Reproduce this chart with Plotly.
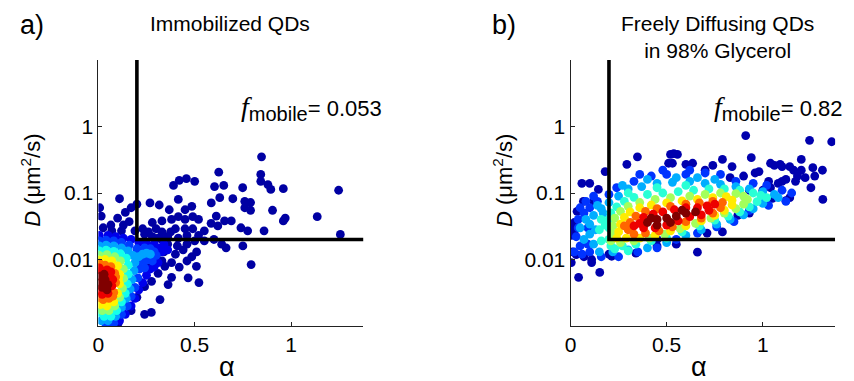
import plotly.graph_objects as go

W, H = 854, 381

# ---------------- data: panel a (Immobilized QDs) ----------------
# points grouped by local density level (0 = sparse, 1 = densest); (alpha, D in um^2/s)
A_D100 = [(0.01, 0.0045), (0.035, 0.005), (0.02, 0.0038), (0.05, 0.0042), (0.008, 0.0056), (0.03, 0.006),
          (0.045, 0.0035)]
A_D088 = [(0.005, 0.0034), (0.015, 0.0068), (0.06, 0.0057), (0.07, 0.004), (0.05, 0.0031), (0.02, 0.003),
          (0.075, 0.005), (0.045, 0.007), (0.005, 0.0075), (0.065, 0.0065)]
A_D075 = [(0.005, 0.0027), (0.025, 0.0025), (0.055, 0.0026), (0.08, 0.0032), (0.09, 0.0045), (0.085, 0.0062),
          (0.065, 0.0078), (0.035, 0.0082), (0.005, 0.0088), (0.09, 0.0055), (0.075, 0.0028)]
A_D062 = [(0.005, 0.0098), (0.035, 0.01), (0.07, 0.0095), (0.1, 0.008), (0.11, 0.006), (0.11, 0.0043),
          (0.1, 0.0031), (0.08, 0.0023), (0.045, 0.002), (0.01, 0.0021), (0.105, 0.0052)]
A_D050 = [(0.005, 0.0115), (0.045, 0.0118), (0.085, 0.011), (0.115, 0.0095), (0.13, 0.0072), (0.13, 0.0052),
          (0.125, 0.0037), (0.11, 0.0027), (0.085, 0.002), (0.055, 0.0017), (0.02, 0.0017)]
A_D038 = [(0.005, 0.0135), (0.04, 0.0138), (0.08, 0.0132), (0.115, 0.0122), (0.145, 0.0105), (0.155, 0.0082),
          (0.155, 0.006), (0.15, 0.0043), (0.14, 0.0031), (0.12, 0.0023), (0.095, 0.0017), (0.065, 0.0014),
          (0.03, 0.0014), (0.005, 0.0016)]
A_D027 = [(0.005, 0.016), (0.04, 0.0165), (0.08, 0.016), (0.12, 0.015), (0.155, 0.0135), (0.18, 0.0115),
          (0.19, 0.009), (0.185, 0.0068), (0.175, 0.005), (0.165, 0.0036), (0.145, 0.0026), (0.12, 0.0019),
          (0.09, 0.0014), (0.05, 0.0012), (0.015, 0.0012), (0.21, 0.011), (0.23, 0.012), (0.25, 0.0125),
          (0.27, 0.012)]
A_D017 = [(0.005, 0.019), (0.04, 0.0195), (0.08, 0.019), (0.12, 0.018), (0.16, 0.0165), (0.2, 0.0145),
          (0.22, 0.0095), (0.215, 0.0072), (0.205, 0.0053), (0.19, 0.0038), (0.17, 0.0028), (0.15, 0.002),
          (0.12, 0.0015), (0.08, 0.0011), (0.04, 0.001), (0.24, 0.015), (0.27, 0.0145), (0.29, 0.013),
          (0.3, 0.0115), (0.25, 0.0098), (0.28, 0.0095), (0.24, 0.0075)]
A_D009 = [(0.005, 0.023), (0.05, 0.023), (0.09, 0.022), (0.13, 0.021), (0.17, 0.02), (0.21, 0.018),
          (0.25, 0.018), (0.29, 0.017), (0.32, 0.015), (0.33, 0.013), (0.31, 0.009), (0.27, 0.0072),
          (0.25, 0.0058), (0.23, 0.0045), (0.21, 0.0035), (0.19, 0.0026), (0.17, 0.002), (0.14, 0.0015),
          (0.11, 0.0012), (0.34, 0.017), (0.36, 0.014), (0.29, 0.0078)]
A_D002 = [(0.847, 0.35), (0.625, 0.206), (1.247, 0.11), (0.96, 0.116), (1.136, 0.044), (1.256, 0.0238),
          (0.843, 0.19), (0.843, 0.15), (0.895, 0.113), (0.88, 0.134), (0.749, 0.12), (0.651, 0.13),
          (0.603, 0.125), (0.698, 0.082), (0.63, 0.085), (0.586, 0.071), (0.457, 0.164), (0.5, 0.15),
          (0.42, 0.155), (0.39, 0.13), (0.415, 0.08), (0.268, 0.071), (0.316, 0.066), (0.368, 0.056),
          (0.45, 0.056), (0.485, 0.063), (0.76, 0.075), (0.76, 0.06), (0.79, 0.055), (0.79, 0.072),
          (0.904, 0.055), (0.96, 0.038), (0.97, 0.042), (0.86, 0.027), (0.793, 0.0084), (0.75, 0.016),
          (0.74, 0.03), (0.775, 0.027), (0.663, 0.015), (0.64, 0.017), (0.6, 0.02), (0.55, 0.027),
          (0.585, 0.035), (0.62, 0.032), (0.655, 0.038), (0.69, 0.038), (0.612, 0.045), (0.509, 0.0079),
          (0.466, 0.0053), (0.522, 0.0045), (0.362, 0.0042), (0.32, 0.0025), (0.275, 0.0016), (0.24, 0.0015),
          (0.17, 0.0017), (0.103, 0.0011), (0.068, 0.0011), (0.38, 0.0054), (0.42, 0.0077), (0.46, 0.0095),
          (0.485, 0.011), (0.51, 0.013), (0.38, 0.009), (0.345, 0.0079), (0.31, 0.0062), (0.276, 0.0047),
          (0.24, 0.0039), (0.2, 0.0027), (0.3, 0.011), (0.26, 0.0085), (0.33, 0.0095),
          (0.007, 0.06), (0.11, 0.082), (0.015, 0.045), (0.14, 0.051), (0.17, 0.06),
          (0.2, 0.068), (0.025, 0.03), (0.065, 0.033), (0.1, 0.042), (0.13, 0.033), (0.16, 0.037),
          (0.07, 0.027), (0.12, 0.027), (0.19, 0.027), (0.23, 0.029), (0.28, 0.036), (0.33, 0.038),
          (0.38, 0.04), (0.415, 0.044), (0.45, 0.04), (0.49, 0.044), (0.52, 0.04), (0.4, 0.029),
          (0.45, 0.029), (0.49, 0.029), (0.46, 0.023), (0.415, 0.021), (0.375, 0.026), (0.33, 0.026),
          (0.3, 0.029), (0.26, 0.026), (0.31, 0.021), (0.36, 0.017), (0.41, 0.016), (0.46, 0.017),
          (0.5, 0.019), (0.55, 0.019), (0.52, 0.023), (0.34, 0.013), (0.4, 0.012), (0.44, 0.014),
          (0.33, 0.02), (0.28, 0.022), (0.36, 0.022), (0.24, 0.024)]
A_LEVELS = [(0.02, A_D002), (0.09, A_D009), (0.17, A_D017), (0.27, A_D027), (0.38, A_D038),
            (0.50, A_D050), (0.62, A_D062), (0.75, A_D075), (0.88, A_D088), (1.00, A_D100)]

# ---------------- data: panel b (Freely diffusing QDs) ----------------
B_D100 = [(0.4, 0.036), (0.45, 0.04), (0.5, 0.042), (0.55, 0.045), (0.6, 0.05), (0.45, 0.033), (0.52, 0.036),
          (0.58, 0.055), (0.65, 0.052), (0.42, 0.042)]
B_D088 = [(0.36, 0.035), (0.38, 0.043), (0.43, 0.048), (0.48, 0.052), (0.54, 0.056), (0.6, 0.06), (0.66, 0.06),
          (0.71, 0.064), (0.72, 0.055), (0.68, 0.047), (0.62, 0.044), (0.56, 0.038), (0.5, 0.033), (0.44, 0.03),
          (0.38, 0.03), (0.75, 0.068), (0.33, 0.032)]
B_D076 = [(0.3, 0.028), (0.31, 0.036), (0.34, 0.045), (0.39, 0.053), (0.45, 0.058), (0.52, 0.063), (0.6, 0.068),
          (0.67, 0.071), (0.74, 0.075), (0.79, 0.072), (0.78, 0.06), (0.74, 0.05), (0.68, 0.042), (0.6, 0.037),
          (0.53, 0.031), (0.46, 0.027), (0.39, 0.025), (0.33, 0.024), (0.28, 0.032)]
B_D063 = [(0.25, 0.026), (0.26, 0.034), (0.28, 0.043), (0.31, 0.052), (0.36, 0.06), (0.42, 0.066), (0.5, 0.071),
          (0.58, 0.076), (0.66, 0.08), (0.74, 0.085), (0.81, 0.088), (0.84, 0.078), (0.84, 0.066), (0.8, 0.055),
          (0.75, 0.046), (0.68, 0.038), (0.6, 0.032), (0.52, 0.027), (0.44, 0.023), (0.36, 0.021), (0.29, 0.021),
          (0.24, 0.021)]
B_D052 = [(0.22, 0.024), (0.22, 0.032), (0.23, 0.042), (0.26, 0.053), (0.3, 0.063), (0.36, 0.072), (0.44, 0.08),
          (0.52, 0.085), (0.62, 0.09), (0.7, 0.095), (0.78, 0.1), (0.86, 0.098), (0.9, 0.09), (0.92, 0.08),
          (0.9, 0.068), (0.86, 0.058), (0.8, 0.05), (0.73, 0.042), (0.65, 0.035), (0.57, 0.029), (0.49, 0.024),
          (0.41, 0.021), (0.33, 0.019), (0.26, 0.018), (0.21, 0.019)]
B_D040 = [(0.2, 0.02), (0.2, 0.03), (0.2, 0.04), (0.21, 0.05), (0.24, 0.062), (0.28, 0.075), (0.33, 0.086),
          (0.4, 0.095), (0.48, 0.1), (0.56, 0.105), (0.64, 0.11), (0.72, 0.115), (0.8, 0.115), (0.88, 0.11),
          (0.95, 0.1), (0.99, 0.092), (1.02, 0.085), (0.97, 0.074), (0.93, 0.062), (0.88, 0.052), (0.82, 0.045),
          (0.75, 0.039), (0.67, 0.032), (0.58, 0.026), (0.5, 0.021), (0.42, 0.019), (0.34, 0.017), (0.27, 0.016),
          (0.21, 0.016), (0.16, 0.019), (0.15, 0.028), (0.16, 0.04), (0.3, 0.1), (0.45, 0.12), (0.6, 0.13),
          (0.23, 0.0145), (0.3, 0.0135), (0.18, 0.033)]
B_D028 = [(0.12, 0.017), (0.1, 0.024), (0.1, 0.034), (0.12, 0.046), (0.16, 0.058), (0.2, 0.072), (0.25, 0.09),
          (0.3, 0.115), (0.37, 0.125), (0.45, 0.14), (0.53, 0.145), (0.62, 0.15), (0.7, 0.14), (0.78, 0.135),
          (0.86, 0.125), (0.93, 0.115), (1.0, 0.105), (1.06, 0.095), (1.08, 0.085), (1.0, 0.07), (0.95, 0.058),
          (0.9, 0.047), (0.83, 0.04), (0.76, 0.034), (0.68, 0.028), (0.6, 0.023), (0.5, 0.018), (0.4, 0.015),
          (0.3, 0.014), (0.22, 0.013), (0.15, 0.013), (0.07, 0.02), (0.05, 0.03), (0.27, 0.13), (0.4, 0.16),
          (0.55, 0.17), (0.66, 0.17), (0.75, 0.16), (0.13, 0.028), (0.17, 0.05), (0.08, 0.04), (0.14, 0.065)]
B_D016 = [(0.05, 0.016), (0.03, 0.022), (0.04, 0.04), (0.07, 0.05), (0.1, 0.06), (0.14, 0.075), (0.2, 0.095),
          (0.24, 0.12), (0.33, 0.15), (0.42, 0.18), (0.5, 0.19), (0.6, 0.19), (0.7, 0.2), (0.78, 0.19),
          (0.86, 0.15), (0.95, 0.14), (1.02, 0.13), (1.1, 0.11), (1.15, 0.1), (1.12, 0.075), (1.03, 0.065),
          (0.93, 0.055), (0.85, 0.037), (0.76, 0.031), (0.66, 0.025), (0.55, 0.02), (0.45, 0.015),
          (0.35, 0.013), (0.25, 0.011), (0.16, 0.011), (0.1, 0.013), (0.02, 0.013), (0.48, 0.22), (0.62, 0.22),
          (0.36, 0.19), (0.12, 0.09), (0.08, 0.075), (0.06, 0.012), (0.09, 0.017), (0.05, 0.06),
          (0.09, 0.03), (0.04, 0.03)]
B_D003 = [(0.911, 0.73), (1.243, 0.62), (1.358, 0.59), (0.348, 0.35), (0.537, 0.39), (0.556, 0.38),
          (0.293, 0.27), (0.51, 0.28), (0.635, 0.28), (0.74, 0.26), (0.79, 0.32), (0.84, 0.25), (0.94, 0.34),
          (1.2, 0.32), (1.06, 0.26), (1.1, 0.25), (1.14, 0.25), (1.26, 0.24), (1.31, 0.22), (1.27, 0.18),
          (1.2, 0.22), (1.18, 0.18), (1.22, 0.17), (0.96, 0.2), (0.98, 0.21), (0.9, 0.18), (0.83, 0.17),
          (1.12, 0.16), (1.08, 0.14), (1.25, 0.12), (1.312, 0.08), (1.12, 0.077), (1.14, 0.085),
          (1.05, 0.083), (0.93, 0.05), (0.87, 0.046), (0.79, 0.026), (0.71, 0.025), (0.66, 0.0129),
          (0.45, 0.02), (0.34, 0.0125), (0.2, 0.012), (0.152, 0.0064), (0.042, 0.0054), (0.004, 0.009),
          (0.01, 0.013), (0.005, 0.023), (0.02, 0.027), (0.02, 0.036), (0.059, 0.14), (0.1, 0.14),
          (0.18, 0.21), (0.145, 0.113), (0.12, 0.075), (0.067, 0.075), (0.034, 0.053), (0.016, 0.032),
          (0.03, 0.0118), (0.11, 0.01), (0.214, 0.0112), (0.45, 0.016), (0.55, 0.017), (0.52, 0.38),
          (0.53, 0.28), (1.04, 0.28), (1.09, 0.27), (1.16, 0.22), (1.17, 0.15), (1.03, 0.15), (1.1, 0.15),
          (1.04, 0.12), (1.0, 0.11), (0.93, 0.11), (0.07, 0.011), (0.11, 0.009), (0.6, 0.27), (0.7, 0.22)]
B_LEVELS = [(0.03, B_D003), (0.16, B_D016), (0.28, B_D028), (0.40, B_D040), (0.52, B_D052),
            (0.63, B_D063), (0.76, B_D076), (0.88, B_D088), (1.00, B_D100)]

# thresholds and annotations
ALPHA_THRESH = 0.2
D_THRESH = 0.02
F_MOBILE = ["0.053", "0.82"]
TITLES = ["Immobilized QDs", "Freely Diffusing QDs<br>in 98% Glycerol"]
PANEL_LABELS = ["a)", "b)"]
X_TICKS = [0, 0.5, 1]
X_TICKTEXT = ["0", "0.5", "1"]
Y_TICKS = [0.01, 0.1, 1]
Y_TICKTEXT = ["0.01", "0.1", "1"]
X_MAX = 1.376
Y_MIN, Y_MAX = 0.001, 10

JET = [[0.0, "rgb(0,0,143)"], [0.11, "rgb(0,0,255)"], [0.36, "rgb(0,255,255)"],
       [0.61, "rgb(255,255,0)"], [0.86, "rgb(255,0,0)"], [1.0, "rgb(128,0,0)"]]

FONT = "Liberation Sans, Arial, sans-serif"

# layout geometry (pixels)
PLOT_X = [(93, 360), (568.5, 835)]
PLOT_Y = (60, 326)

fig = go.Figure()

for i, levels in enumerate([A_LEVELS, B_LEVELS]):
    xs, ys, cs = [], [], []
    for c, pts in levels:  # ascending density so dense points are drawn on top
        for a, d in pts:
            xs.append(a); ys.append(d); cs.append(c)
    sfx = "" if i == 0 else "2"
    fig.add_trace(go.Scatter(
        x=xs, y=ys, mode="markers", xaxis="x" + sfx, yaxis="y" + sfx,
        marker=dict(size=8.8, color=cs, colorscale=JET, cmin=0, cmax=1, line=dict(width=0), opacity=1),
        showlegend=False, hoverinfo="skip"))
    fig.add_trace(go.Scatter(
        x=[ALPHA_THRESH, ALPHA_THRESH, X_MAX], y=[Y_MAX, D_THRESH, D_THRESH],
        mode="lines", xaxis="x" + sfx, yaxis="y" + sfx,
        line=dict(color="black", width=3.6), showlegend=False, hoverinfo="skip", cliponaxis=False))

def px_x(p):
    return p / W

def px_y(p):
    return 1 - p / H

axcommon = dict(showline=True, linecolor="#222", linewidth=1, ticks="inside", ticklen=4, tickcolor="#222",
                showgrid=False, zeroline=False, mirror=False,
                tickfont=dict(family=FONT, size=21, color="black"))
layout = dict(width=W, height=H, margin=dict(l=0, r=0, t=0, b=0),
              plot_bgcolor="white", paper_bgcolor="white", showlegend=False)
for i in range(2):
    sfx = "" if i == 0 else "2"
    layout["xaxis" + sfx] = dict(axcommon, domain=[px_x(PLOT_X[i][0]), px_x(PLOT_X[i][1])],
                                 range=[0, X_MAX], tickvals=X_TICKS, ticktext=X_TICKTEXT,
                                 anchor="y" + sfx)
    layout["yaxis" + sfx] = dict(axcommon, domain=[px_y(PLOT_Y[1]), px_y(PLOT_Y[0])], type="log",
                                 range=[-3, 1], tickvals=Y_TICKS, ticktext=Y_TICKTEXT,
                                 anchor="x" + sfx)
fig.update_layout(**layout)

ann = []
for i in range(2):
    x0, x1 = PLOT_X[i]
    cx = (x0 + x1) / 2
    ann.append(dict(text=PANEL_LABELS[i], x=px_x(x0 - 67), y=px_y(25), xref="paper", yref="paper",
                    xanchor="center", yanchor="middle", showarrow=False,
                    font=dict(family=FONT, size=27, color="black")))
    ann.append(dict(text=TITLES[i], x=px_x(cx - 1 if i == 0 else 717), y=px_y(10), xref="paper", yref="paper",
                    xanchor="center", yanchor="top", showarrow=False,
                    font=dict(family=FONT, size=21, color="black")))
    ann.append(dict(text="α", x=px_x(cx - 4), y=px_y(367), xref="paper", yref="paper",
                    xanchor="center", yanchor="middle", showarrow=False,
                    font=dict(family=FONT, size=27, color="black")))
    ann.append(dict(text="<i>D</i> (μm<sup>2</sup>/s)", x=px_x(x0 - 68), y=px_y(180), xref="paper",
                    yref="paper", xanchor="center", yanchor="middle", textangle=-90, showarrow=False,
                    font=dict(family=FONT, size=22, color="black")))
    ann.append(dict(text='<span style="font-family:Liberation Serif;font-style:italic;font-size:28px">f</span>'
                         '<sub><span style="font-size:20px">mobile</span></sub>= ' + F_MOBILE[i],
                    x=px_x(x0 + 142), y=px_y(108), xref="paper", yref="paper",
                    xanchor="left", yanchor="middle", showarrow=False,
                    font=dict(family=FONT, size=22, color="black")))
fig.update_layout(annotations=ann)

fig.write_html("out.html")
